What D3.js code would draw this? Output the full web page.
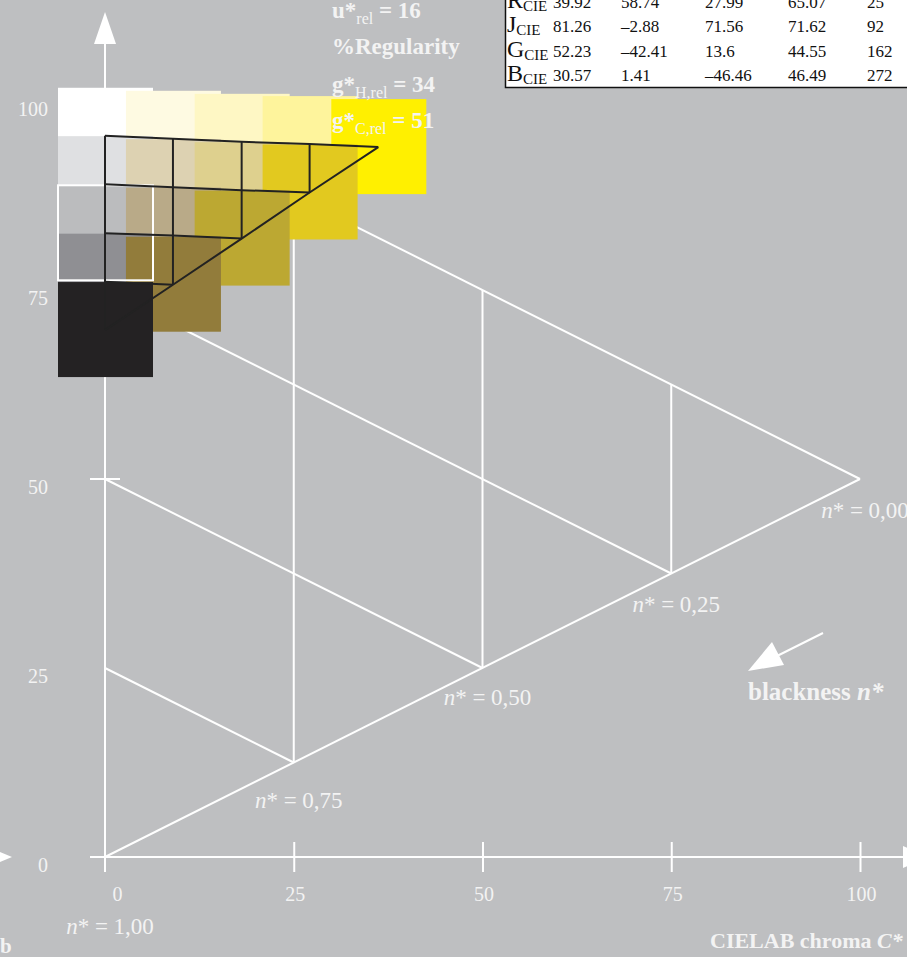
<!DOCTYPE html>
<html><head><meta charset="utf-8">
<script src="https://cdn.jsdelivr.net/npm/d3@7"></script>
<style>html,body{margin:0;padding:0;background:#bebfc1;overflow:hidden}
text{font-family:"Liberation Serif","Times New Roman",serif}</style>
</head><body><svg id="c" width="907" height="957"></svg>
<script>
// ---------- data ----------
const xTicks = [0, 25, 50, 75, 100];
const yTicks = [0, 25, 50, 75, 100];
const nLabels = ["1,00", "0,75", "0,50", "0,25", "0,00"];
const nLabelC = [0, 25, 50, 75, 100];
const nLabelL = [0, 12.5, 25, 37.5, 50];
// white reference triangle lines (C*, L*) endpoints
const gridFromC = [0, 0, 0, 0, 0, 25, 50, 75];
const gridFromL = [0, 25, 50, 75, 100, 12.5, 25, 37.5];
const gridToC   = [100, 25, 50, 75, 100, 25, 50, 75];
const gridToL   = [50, 12.5, 25, 37.5, 50, 87.5, 75, 62.5];
// colour patches (grid nodes), drawn in this order
const patchCol = [0, 1, 2, 3, 4, 0, 1, 2, 3, 0, 1, 2, 0, 1, 0];
const patchRow = [0, 0, 0, 0, 0, 1, 1, 1, 1, 2, 2, 2, 3, 3, 4];
const patchC = [0, 9.0, 18.1, 27.1, 36.2, 0, 9.0, 18.1, 27.1, 0, 9.0, 18.1, 0, 9.0, 0];
const patchL = [95.4, 95.0, 94.6, 94.3, 93.9, 89.0, 88.6, 88.2, 87.9, 82.5, 82.2, 81.8, 76.1, 75.7, 69.7];
const patchColor = ["#ffffff", "#fefae2", "#fef7c4", "#fef49c", "#fff000",
                    "#dfe0e2", "#ddd2b2", "#ded08e", "#e2c91f",
                    "#bbbcbe", "#b9aa88", "#bca832",
                    "#8f8f93", "#927c3b",
                    "#242223"];
// table
const tabName = ["R", "J", "G", "B"];
const tabL = ["39.92", "81.26", "52.23", "30.57"];
const tabA = ["58.74", "–2.88", "–42.41", "1.41"];
const tabB = ["27.99", "71.56", "13.6", "–46.46"];
const tabCab = ["65.07", "71.62", "44.55", "46.49"];
const tabHab = ["25", "92", "162", "272"];

// ---------- drawing ----------
const svg = d3.select("#c");
const W = 907, H = 957;
svg.append("rect").attr("width", W).attr("height", H).attr("fill", "#bebfc1");
const x = d3.scaleLinear().domain([0, 100]).range([105, 860]);
const y = d3.scaleLinear().domain([0, 100]).range([857, 101]);
const WHITE = "#ffffff", TXT = "#f3f3f3";

// white triangle lines
const gl = svg.append("g").attr("stroke", WHITE).attr("stroke-width", 2);
gridFromC.forEach((c, i) => {
  gl.append("line").attr("x1", x(c)).attr("y1", y(gridFromL[i]))
    .attr("x2", x(gridToC[i])).attr("y2", y(gridToL[i]));
});

// axes
const xAxis = d3.axisBottom(x).tickValues(xTicks).tickSize(0).tickFormat(d3.format("d"));
const gx = svg.append("g").attr("transform", `translate(0,${y(0)})`).call(xAxis);
gx.select(".domain").remove();
gx.selectAll("text").attr("fill", TXT).style("font-size", "20px")
  .attr("y", 44).attr("dy", 0).attr("dx", d => d === 0 ? 12 : 1);
gx.selectAll(".tick").filter(d => d !== 0).append("line")
  .attr("y1", -15).attr("y2", 15).attr("stroke", WHITE).attr("stroke-width", 2);
const yAxis = d3.axisLeft(y).tickValues(yTicks).tickSize(0).tickFormat(d3.format("d"));
const gy = svg.append("g").attr("transform", `translate(48,0)`).call(yAxis);
gy.select(".domain").remove();
gy.selectAll("text").attr("fill", TXT).style("font-size", "20px")
  .attr("x", 0).attr("dy", 0).attr("y", 14).attr("text-anchor", "end");
// axis lines
svg.append("line").attr("x1", 90).attr("x2", 905).attr("y1", y(0)).attr("y2", y(0))
  .attr("stroke", WHITE).attr("stroke-width", 2);
svg.append("line").attr("x1", x(0)).attr("x2", x(0)).attr("y1", y(0) + 15).attr("y2", 40)
  .attr("stroke", WHITE).attr("stroke-width", 2);
svg.append("line").attr("x1", 90).attr("x2", 120).attr("y1", y(50)).attr("y2", y(50))
  .attr("stroke", WHITE).attr("stroke-width", 2);
// arrowheads
svg.append("path").attr("d", `M${x(0)},12 L${x(0) - 11},44 L${x(0) + 11},44 Z`).attr("fill", WHITE);
svg.append("path").attr("d", `M903,${y(0) - 11} L930,${y(0)} L903,${y(0) + 11} Z`).attr("fill", WHITE);
svg.append("path").attr("d", `M0,${y(0) - 5} L12,${y(0)} L0,${y(0) + 5} Z`).attr("fill", WHITE);

// colour patches
const half = 47.5;
patchC.forEach((c, i) => {
  svg.append("rect").attr("x", x(c) - half + 0.5).attr("y", y(patchL[i]) - half - 0.5)
    .attr("width", 2 * half).attr("height", 2 * half).attr("fill", patchColor[i]);
});
// white outline of mid-grey patch
patchC.forEach((c, i) => {
  if (patchCol[i] === 0 && patchRow[i] === 2) {
    svg.append("rect").attr("x", x(c) - half + 0.5).attr("y", y(patchL[i]) - half - 0.5)
      .attr("width", 2 * half).attr("height", 2 * half).attr("fill", "none")
      .attr("stroke", WHITE).attr("stroke-width", 2);
  }
});
// black node grid
const line = d3.line().x(d => x(patchC[d])).y(d => y(patchL[d]));
const idx = d3.range(patchC.length);
const bg = svg.append("g").attr("fill", "none").attr("stroke", "#222").attr("stroke-width", 2);
for (let r = 0; r < 4; r++) {
  const pts = idx.filter(i => patchRow[i] === r).sort((a, b) => patchCol[a] - patchCol[b]);
  bg.append("path").attr("d", line(pts));
}
for (let c = 0; c < 4; c++) {
  const pts = idx.filter(i => patchCol[i] === c).sort((a, b) => patchRow[a] - patchRow[b]);
  bg.append("path").attr("d", line(pts));
}
const diag = idx.filter(i => patchCol[i] + patchRow[i] === 4).sort((a, b) => patchCol[a] - patchCol[b]);
bg.append("path").attr("d", line(diag));

// n* labels
const nOff = [77, 45, 37, 38, 39];
nLabels.forEach((t, i) => {
  const tx = svg.append("text").attr("x", x(nLabelC[i]) + 5).attr("y", y(nLabelL[i]) + nOff[i])
    .attr("text-anchor", "middle").attr("fill", TXT).style("font-size", "23px");
  tx.append("tspan").style("font-style", "italic").text("n");
  tx.append("tspan").text("* = " + t);
});

// blackness arrow
svg.append("line").attr("x1", 823).attr("y1", 633).attr("x2", 775).attr("y2", 657)
  .attr("stroke", WHITE).attr("stroke-width", 2);
svg.append("path").attr("d", "M748,671 L772,642 L784,665 Z").attr("fill", WHITE);
const bl = svg.append("text").attr("x", 748).attr("y", 700).attr("fill", TXT)
  .style("font-size", "25px").style("font-weight", "bold");
bl.append("tspan").text("blackness ");
bl.append("tspan").style("font-style", "italic").text("n*");

// axis titles
const ct = svg.append("text").attr("x", 710).attr("y", 948)
  .attr("fill", TXT).style("font-size", "22px").style("font-weight", "bold");
ct.append("tspan").text("CIELAB chroma ");
ct.append("tspan").style("font-style", "italic").text("C*");
svg.append("text").attr("x", 0).attr("y", 953).attr("fill", TXT)
  .style("font-size", "21px").style("font-weight", "bold").text("b");

// top texts
function subText(yy, main, sub, rest) {
  const t = svg.append("text").attr("x", 332).attr("y", yy).attr("fill", TXT)
    .style("font-size", "23px").style("font-weight", "bold");
  t.append("tspan").text(main);
  if (sub) {
    t.append("tspan").attr("dy", 6).style("font-size", "16px").style("font-weight", "normal").text(sub);
    t.append("tspan").attr("dy", -6).text(rest);
  }
}
subText(18, "u*", "rel", " = 16");
subText(54, "%Regularity");
subText(92, "g*", "H,rel", " = 34");
subText(128, "g*", "C,rel", " = 51");

// table
svg.append("rect").attr("x", 505.5).attr("y", -5).attr("width", 410).attr("height", 92.5)
  .attr("fill", "#ffffff").attr("stroke", "#111").attr("stroke-width", 1.5);
const colX = [553, 621, 705, 788, 867];
const cols = [tabL, tabA, tabB, tabCab, tabHab];
tabName.forEach((n, i) => {
  const by = 7.5 + i * 24.5;
  const t = svg.append("text").attr("x", 507).attr("y", by).attr("fill", "#111").style("font-size", "24px");
  t.append("tspan").text(n);
  t.append("tspan").attr("dy", 3).style("font-size", "15px").text("CIE");
  cols.forEach((arr, j) => {
    svg.append("text").attr("x", colX[j]).attr("y", by).attr("fill", "#111")
      .style("font-size", "17px").text(arr[i]);
  });
});
</script></body></html>
